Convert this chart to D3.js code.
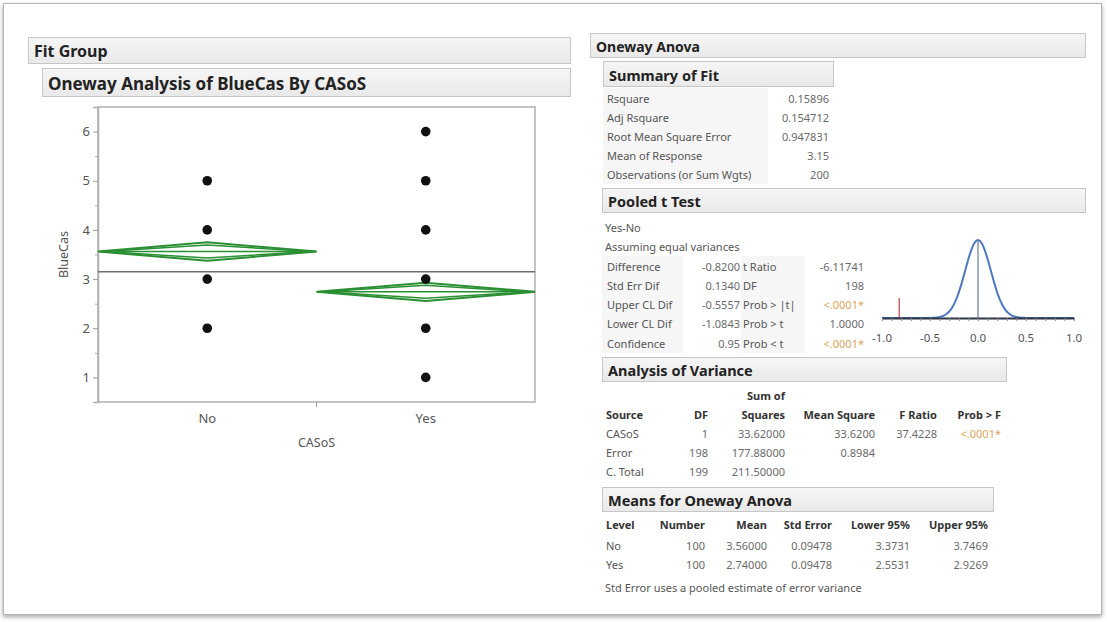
<!DOCTYPE html>
<html><head><meta charset="utf-8">
<script src="https://cdn.jsdelivr.net/npm/d3@7"></script>
<style>
html,body{margin:0;padding:0;background:#fff;}
svg{display:block;font-family:"Noto Sans","Open Sans",sans-serif;}
</style></head><body>
<svg id="chart" width="1107" height="622"></svg>
<script>
// ---- data ----
const categories = ["No", "Yes"];
const pointsNo = [2, 3, 4, 5];
const pointsYes = [1, 2, 3, 4, 5, 6];
const groupMeans = [3.56, 2.74];
const lower95 = [3.3731, 2.5531];
const upper95 = [3.7469, 2.9269];
const grandMean = 3.15;
const yTicks = [1, 2, 3, 4, 5, 6];

const summaryLabels = ["Rsquare", "Adj Rsquare", "Root Mean Square Error", "Mean of Response", "Observations (or Sum Wgts)"];
const summaryValues = ["0.15896", "0.154712", "0.947831", "3.15", "200"];

const tLabelsA = ["Difference", "Std Err Dif", "Upper CL Dif", "Lower CL Dif", "Confidence"];
const tValuesA = ["-0.8200", "0.1340", "-0.5557", "-1.0843", "0.95"];
const tLabelsB = ["t Ratio", "DF", "Prob > |t|", "Prob > t", "Prob < t"];
const tValuesB = ["-6.11741", "198", "<.0001*", "1.0000", "<.0001*"];
const diffEstimate = -0.82;
const stdErrDif = 0.134;
const dfError = 198;
const tAxisTicks = [-1.0, -0.5, 0.0, 0.5, 1.0];
const tAxisLabels = ["-1.0", "-0.5", "0.0", "0.5", "1.0"];

const anovaHeader = ["Source", "DF", "Squares", "Mean Square", "F Ratio", "Prob > F"];
const anovaSource = ["CASoS", "Error", "C. Total"];
const anovaDF = ["1", "198", "199"];
const anovaSS = ["33.62000", "177.88000", "211.50000"];
const anovaMS = ["33.6200", "0.8984", ""];
const anovaF = ["37.4228", "", ""];
const anovaP = ["<.0001*", "", ""];

const meansHeader = ["Level", "Number", "Mean", "Std Error", "Lower 95%", "Upper 95%"];
const meansLevel = ["No", "Yes"];
const meansNumber = ["100", "100"];
const meansMean = ["3.56000", "2.74000"];
const meansStdErr = ["0.09478", "0.09478"];
const meansLower = ["3.3731", "2.5531"];
const meansUpper = ["3.7469", "2.9269"];

// ---- setup ----
const svg = d3.select("#chart");
const defs = svg.append("defs");
const grad = defs.append("linearGradient").attr("id", "hdr").attr("x1", 0).attr("y1", 0).attr("x2", 0).attr("y2", 1);
grad.append("stop").attr("offset", "0%").attr("stop-color", "#f6f6f6");
grad.append("stop").attr("offset", "100%").attr("stop-color", "#e9e9e9");
const shadow = defs.append("filter").attr("id", "shadow").attr("x", "-5%").attr("y", "-5%").attr("width", "110%").attr("height", "115%");
shadow.append("feDropShadow").attr("dx", 0).attr("dy", 2).attr("stdDeviation", 2).attr("flood-color", "#000").attr("flood-opacity", 0.35);

// window frame
svg.append("rect").attr("x", 3.5).attr("y", 3.5).attr("width", 1098).attr("height", 611)
  .attr("fill", "#fff").attr("stroke", "#b4b4b4").attr("filter", "url(#shadow)");

const TXT = "#555";
const VAL = "#6a6a6a";
const HEAD = "#222";
const SIG = "#d9a65a";

function header(x, y, w, h, label, size) {
  const g = svg.append("g");
  g.append("rect").attr("x", x + 0.5).attr("y", y + 0.5).attr("width", w).attr("height", h)
    .attr("fill", "url(#hdr)").attr("stroke", "#c6c6c6");
  g.append("text").attr("x", x + 6).attr("y", y + h / 2 + 1).attr("dominant-baseline", "central")
    .attr("font-size", size).attr("font-weight", "bold").attr("fill", HEAD).text(label);
}
function txt(x, y, s, opt = {}) {
  return svg.append("text").attr("x", x).attr("y", y).attr("dominant-baseline", "central")
    .attr("font-size", opt.size || 11).attr("fill", opt.color || TXT)
    .attr("font-weight", opt.bold ? "bold" : "normal")
    .attr("text-anchor", opt.anchor || "start").text(s);
}

// ---- left panel ----
header(28, 37, 542, 26, "Fit Group", 16);
header(42, 68, 528, 28, "Oneway Analysis of BlueCas By CASoS", 17);

const plot = { left: 98, right: 535, top: 107, bottom: 402 };
const x = d3.scaleBand().domain(categories).range([plot.left, plot.right]).paddingInner(0).paddingOuter(0);
const y = d3.scaleLinear().domain([0.5, 6.5]).range([plot.bottom, plot.top]);

svg.append("rect").attr("x", plot.left).attr("y", plot.top).attr("width", plot.right - plot.left)
  .attr("height", plot.bottom - plot.top).attr("fill", "#fff").attr("stroke", "#b0b0b0").attr("stroke-width", 1.5);

// y axis
const yAxis = svg.append("g").attr("transform", `translate(${plot.left},0)`)
  .call(d3.axisLeft(y).tickValues(yTicks).tickFormat(d3.format("d")).tickSize(5));
yAxis.select(".domain").attr("stroke", "#b0b0b0").attr("stroke-width", 1.5);
yAxis.selectAll(".tick line").attr("stroke", "#999");
yAxis.selectAll(".tick text").attr("fill", TXT).attr("font-size", 13).attr("font-family", "Noto Sans");
svg.append("g").attr("transform", `translate(${plot.left},0)`)
  .call(d3.axisLeft(y).tickValues(d3.range(1.5, 6.5, 1)).tickFormat("").tickSize(3))
  .call(g => g.select(".domain").remove())
  .selectAll(".tick line").attr("stroke", "#aaa");

// x axis
const xAxis = svg.append("g").attr("transform", `translate(0,${plot.bottom})`)
  .call(d3.axisBottom(x).tickSize(0).tickPadding(12));
xAxis.select(".domain").remove();
xAxis.selectAll(".tick text").attr("fill", TXT).attr("font-size", 13).attr("font-family", "Noto Sans");
svg.append("line").attr("x1", x("Yes")).attr("x2", x("Yes")).attr("y1", plot.bottom).attr("y2", plot.bottom + 5)
  .attr("stroke", "#999");

txt((plot.left + plot.right) / 2, 442, "CASoS", { size: 12.5, anchor: "middle" });
svg.append("text").attr("transform", `translate(63,${(plot.top + plot.bottom) / 2}) rotate(-90)`)
  .attr("text-anchor", "middle").attr("dominant-baseline", "central").attr("font-size", 12.5).attr("fill", TXT).text("BlueCas");

// grand mean
svg.append("line").attr("x1", plot.left).attr("x2", plot.right).attr("y1", y(grandMean)).attr("y2", y(grandMean))
  .attr("stroke", "#6e6e6e").attr("stroke-width", 1.5);

// means diamonds
categories.forEach((c, i) => {
  const x0 = x(c), x1 = x(c) + x.bandwidth(), xc = (x0 + x1) / 2;
  const m = groupMeans[i];
  const half = upper95[i] - m;
  const ov = half / Math.SQRT2;
  const g = svg.append("g").attr("fill", "none").attr("stroke", "#2b8f33").attr("stroke-width", 2);
  g.append("path").attr("d", `M${x0},${y(m)} L${xc},${y(upper95[i])} L${x1},${y(m)} L${xc},${y(lower95[i])} Z`);
  g.append("path").attr("d", `M${x0 + 6},${y(m)} L${xc},${y(m + ov)} L${x1 - 6},${y(m)} L${xc},${y(m - ov)} Z`).attr("stroke-width", 1.5);
  g.append("line").attr("x1", x0).attr("x2", x1).attr("y1", y(m)).attr("y2", y(m)).attr("stroke-width", 1.5);
});

// data points
const pts = [...pointsNo.map(v => ["No", v]), ...pointsYes.map(v => ["Yes", v])];
svg.append("g").selectAll("circle").data(pts).join("circle")
  .attr("cx", d => x(d[0]) + x.bandwidth() / 2).attr("cy", d => y(d[1])).attr("r", 4.8).attr("fill", "#111");

// ---- right panel ----
header(590, 33, 495, 24, "Oneway Anova", 14);
header(603, 61, 230, 25, "Summary of Fit", 14.5);

svg.append("rect").attr("x", 603).attr("y", 88).attr("width", 165).attr("height", 96).attr("fill", "#f6f6f6");
summaryLabels.forEach((l, i) => {
  const yy = 98 + i * 19.2;
  txt(607, yy, l, { size: 11 });
  txt(829, yy, summaryValues[i], { size: 11, anchor: "end", color: VAL });
});

header(602, 188, 483, 24, "Pooled t Test", 14.5);
txt(605, 227, "Yes-No", { size: 11 });
txt(605, 246, "Assuming equal variances", { size: 11 });
svg.append("rect").attr("x", 602).attr("y", 256).attr("width", 81).attr("height", 97).attr("fill", "#f6f6f6");
svg.append("rect").attr("x", 741).attr("y", 256).attr("width", 64).attr("height", 97).attr("fill", "#f6f6f6");
tLabelsA.forEach((l, i) => {
  const yy = 266 + i * 19.3;
  txt(607, yy, l, { size: 11 });
  txt(740, yy, tValuesA[i], { size: 11, anchor: "end", color: VAL });
  txt(743, yy, tLabelsB[i], { size: 11 });
  const v = tValuesB[i];
  txt(864, yy, v, { size: 11, anchor: "end", color: v.startsWith("<") ? SIG : VAL });
});

// null distribution of the difference
const xT = d3.scaleLinear().domain([-1, 1]).range([882, 1074]);
const baseY = 318, peakY = 240;
const tDensity = (t, nu) => Math.pow(1 + t * t / nu, -(nu + 1) / 2);
const curveX = d3.range(-1, 1.0001, 0.01);
const yT = d3.scaleLinear().domain([0, 1]).range([baseY, peakY]);
const line = d3.line().x(d => xT(d)).y(d => yT(tDensity(d / stdErrDif, dfError))).curve(d3.curveBasis);
svg.append("path").datum(curveX).attr("d", line).attr("fill", "none").attr("stroke", "#4f78c0").attr("stroke-width", 2);
svg.append("line").attr("x1", xT(0)).attr("x2", xT(0)).attr("y1", peakY).attr("y2", baseY).attr("stroke", "#6b7a90").attr("stroke-width", 1.2);
svg.append("line").attr("x1", xT(diffEstimate)).attr("x2", xT(diffEstimate)).attr("y1", 298).attr("y2", baseY).attr("stroke", "#d0606a").attr("stroke-width", 1.5);
const tAx = svg.append("g").attr("transform", `translate(0,${baseY})`)
  .call(d3.axisBottom(xT).tickValues(d3.range(-1, 1.0001, 0.1)).tickFormat("").tickSize(3).tickSizeOuter(0));
tAx.select(".domain").attr("stroke", "#2b3448").attr("stroke-width", 2);
tAx.selectAll(".tick line").attr("stroke", "#9a8a7a");
tAxisTicks.forEach((v, i) => txt(xT(v), 337, tAxisLabels[i], { size: 11.5, anchor: "middle" }));

// analysis of variance
header(602, 357, 404, 24, "Analysis of Variance", 14.5);
const aRight = [null, 708, 785, 875, 937, 1001];
txt(785, 395, "Sum of", { size: 11, bold: true, anchor: "end", color: "#333" });
anovaHeader.forEach((h, j) => {
  if (j === 0) txt(606, 414, h, { size: 11, bold: true, color: "#333" });
  else txt(aRight[j], 414, h, { size: 11, bold: true, anchor: "end", color: "#333" });
});
anovaSource.forEach((s, i) => {
  const yy = 433 + i * 19;
  txt(606, yy, s, { size: 11 });
  txt(aRight[1], yy, anovaDF[i], { size: 11, anchor: "end", color: VAL });
  txt(aRight[2], yy, anovaSS[i], { size: 11, anchor: "end", color: VAL });
  txt(aRight[3], yy, anovaMS[i], { size: 11, anchor: "end", color: VAL });
  txt(aRight[4], yy, anovaF[i], { size: 11, anchor: "end", color: VAL });
  txt(aRight[5], yy, anovaP[i], { size: 11, anchor: "end", color: SIG });
});

// means table
header(602, 487, 391, 24, "Means for Oneway Anova", 14.5);
const mRight = [null, 705, 767, 832, 910, 988];
meansHeader.forEach((h, j) => {
  if (j === 0) txt(606, 524, h, { size: 11, bold: true, color: "#333" });
  else txt(mRight[j], 524, h, { size: 11, bold: true, anchor: "end", color: "#333" });
});
meansLevel.forEach((l, i) => {
  const yy = 545 + i * 19;
  txt(606, yy, l, { size: 11 });
  [meansNumber, meansMean, meansStdErr, meansLower, meansUpper].forEach((col, j) =>
    txt(mRight[j + 1], yy, col[i], { size: 11, anchor: "end", color: VAL }));
});
txt(605, 587, "Std Error uses a pooled estimate of error variance", { size: 11 });
</script>
</body></html>
